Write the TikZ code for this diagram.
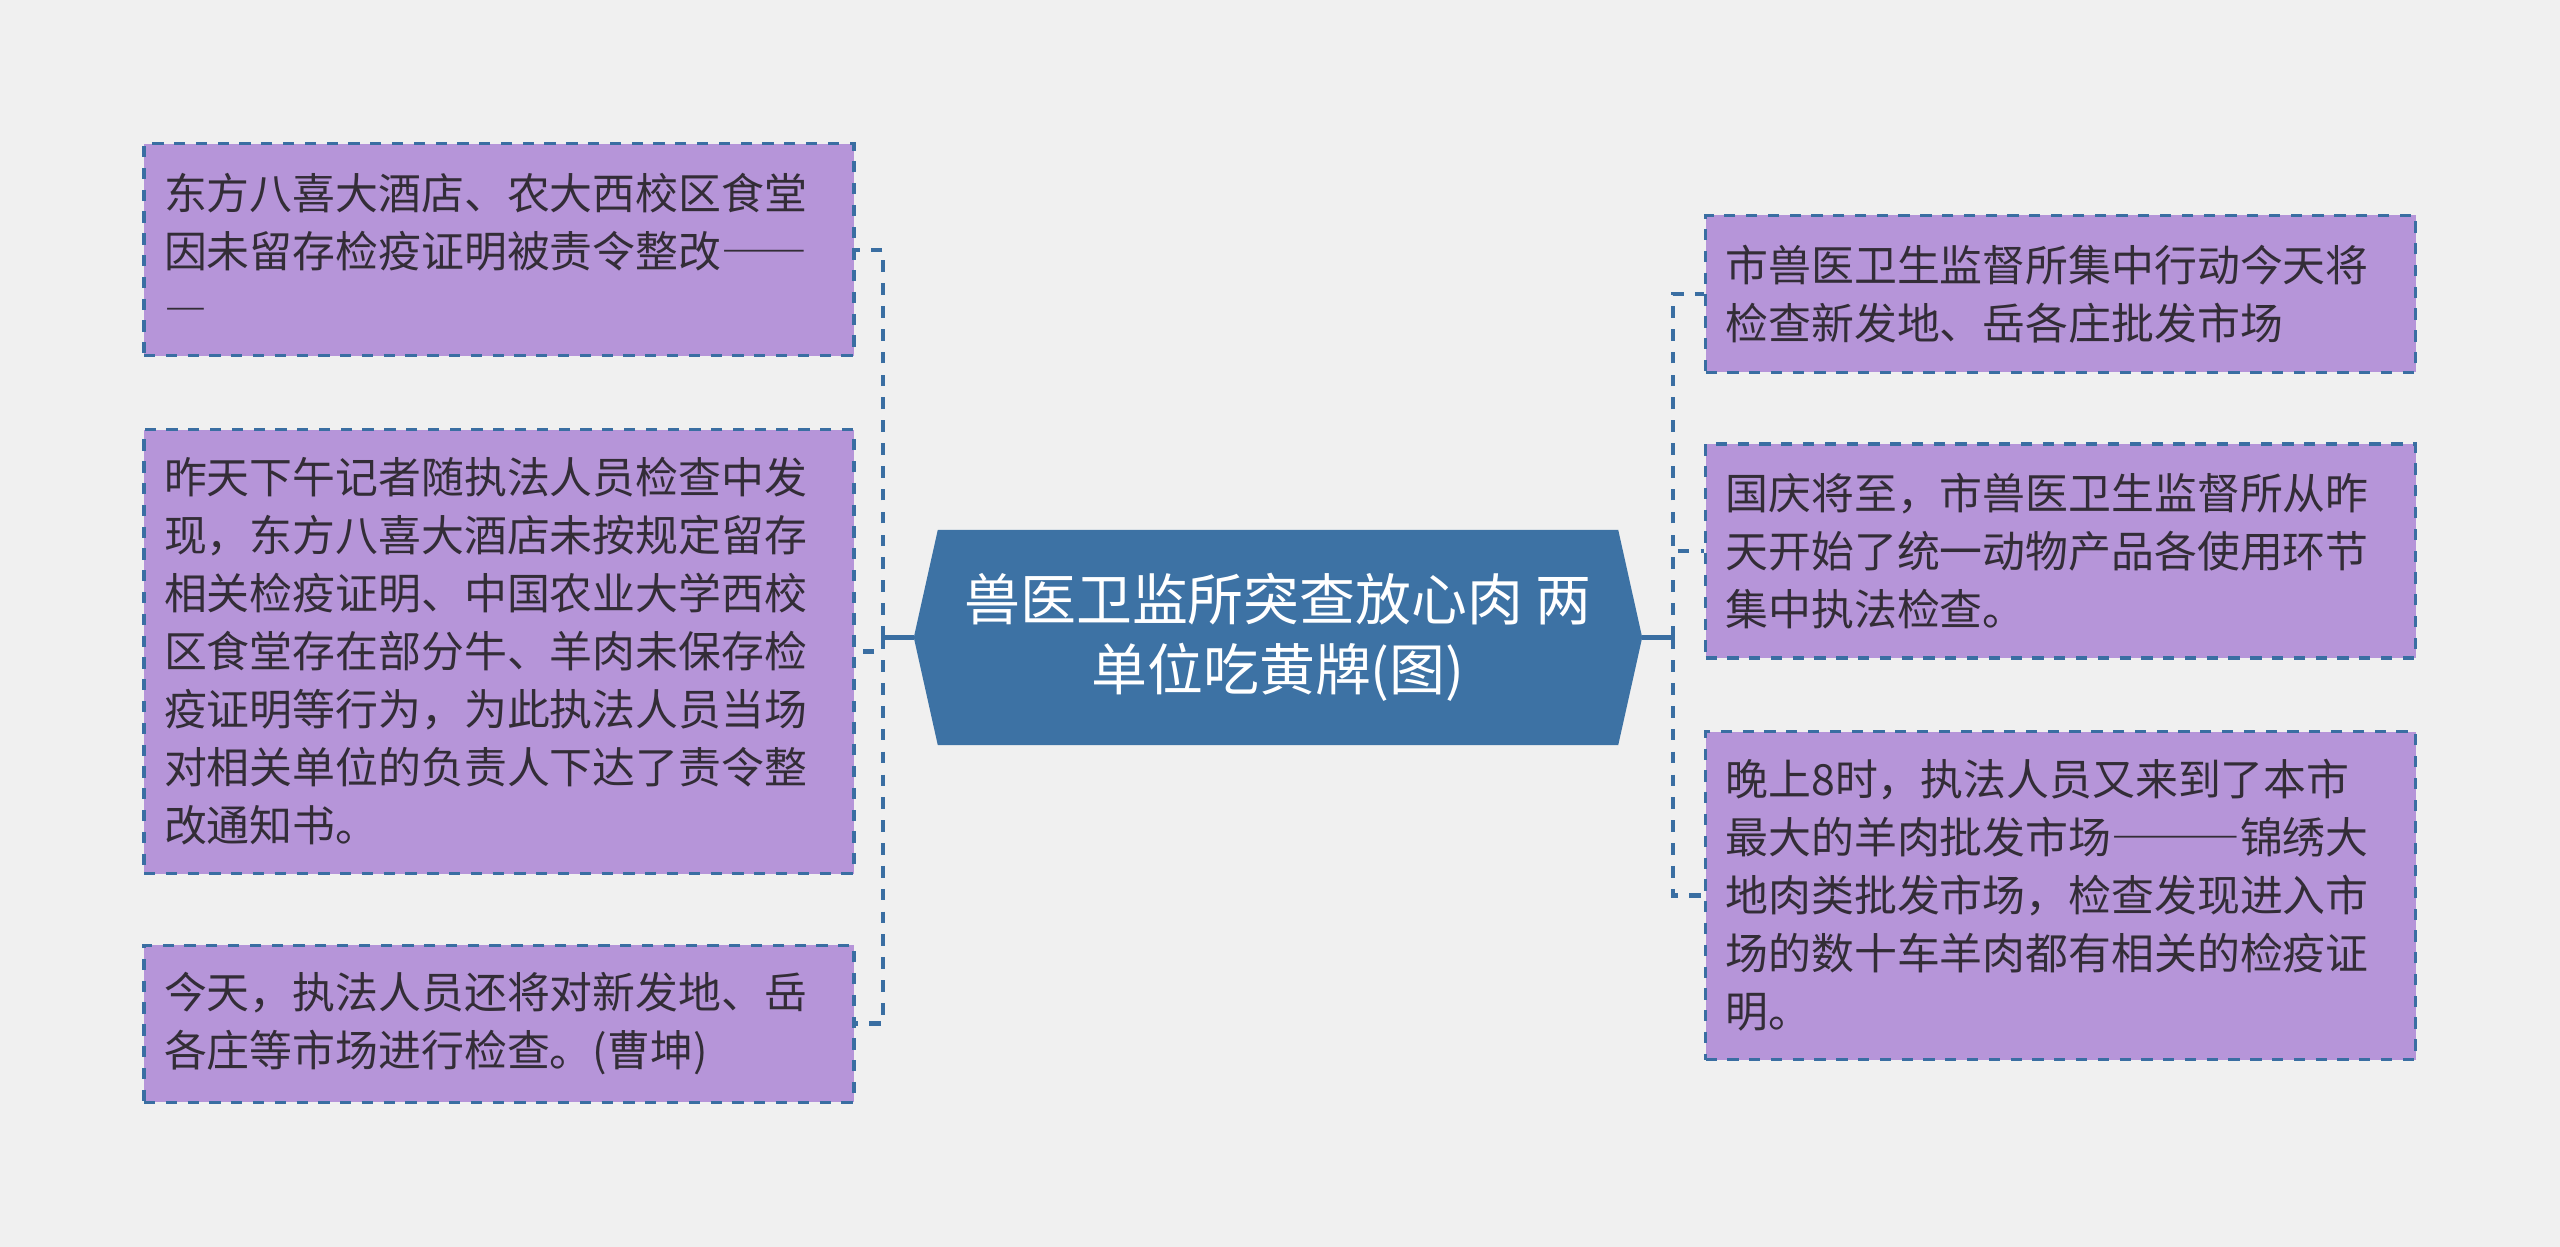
\documentclass[tikz,border=0pt]{standalone}
\usepackage{fontspec}
\setmainfont{Noto Sans CJK SC}
\newfontfamily\fwfont[RawFeature=+fwid]{Noto Sans CJK SC}
\usepackage{tikz}
\usetikzlibrary{positioning, backgrounds}
\definecolor{mybg}{RGB}{240,240,240}
\definecolor{myblue}{RGB}{61,114,164}
\definecolor{myline}{RGB}{58,110,162}
\definecolor{mytext}{RGB}{51,45,55}
\definecolor{hdrlilac}{RGB}{182,149,217}
\tikzset{
  leaf/.style={rectangle, draw=myline, fill=hdrlilac,
    dash pattern=on 3.2pt off 3pt, line width=0.9pt,
    text width=6.7cm, inner xsep=0.2cm, align=left, text=mytext,
    font=\fontsize{12.2pt}{16.5pt}\selectfont},
  root/.style={rectangle, minimum width=7.27cm, minimum height=2.14cm,
    align=center, text=white, font=\fontsize{15.9pt}{20pt}\selectfont},
  link/.style={draw=myline, line width=1.3pt, dash pattern=on 3.3pt off 3.2pt},
  stub/.style={draw=myline, line width=1.3pt}
}

\begin{document}
\begin{tikzpicture}
  \useasboundingbox (0,0) rectangle (25.6,-12.47);

  % central topic
  \node[root] (title) at (12.78,-6.375) {兽医卫监所突查放心肉 两\\单位吃黄牌(图)};

  % left branch
  \node[leaf, minimum height=2.12cm] (lbox1) at (4.99,-2.498) {东方八喜大酒店、农大西校区食堂\\因未留存检疫证明被责令整改{\fwfont ——}\\{\fwfont —}};
  \node[leaf, minimum height=4.44cm] (lbox2) at (4.99,-6.515) {昨天下午记者随执法人员检查中发\\现，东方八喜大酒店未按规定留存\\相关检疫证明、中国农业大学西校\\区食堂存在部分牛、羊肉未保存检\\疫证明等行为，为此执法人员当场\\对相关单位的负责人下达了责令整\\改通知书。};
  \node[leaf, minimum height=1.57cm] (lbox3) at (4.99,-10.237) {今天，执法人员还将对新发地、岳\\各庄等市场进行检查。(曹坤)};

  % right branch
  \node[leaf, minimum height=1.57cm] (rbox1) at (20.605,-2.939) {市兽医卫生监督所集中行动今天将\\检查新发地、岳各庄批发市场};
  \node[leaf, minimum height=2.14cm] (rbox2) at (20.605,-5.51) {国庆将至，市兽医卫生监督所从昨\\天开始了统一动物产品各使用环节\\集中执法检查。};
  \node[leaf, minimum height=3.28cm] (rbox3) at (20.605,-8.956) {晚上8时，执法人员又来到了本市\\最大的羊肉批发市场{\fwfont ———}锦绣大\\地肉类批发市场，检查发现进入市\\场的数十车羊肉都有相关的检疫证\\明。};

  % connectors
  \coordinate (lhub) at (8.83,-6.375);
  \coordinate (rhub) at (16.73,-6.375);
  \draw[stub] (title.west) -- (lhub);
  \foreach \n in {lbox1,lbox2,lbox3}
    \draw[link] (lhub) |- (\n.east);
  \draw[stub] (title.east) -- (rhub);
  \foreach \n in {rbox1,rbox2,rbox3}
    \draw[link] (rhub) |- (\n.west);

  % canvas and hexagon behind the title
  \begin{scope}[on background layer]
    \fill[mybg] (0,0) rectangle (25.6,-12.47);
    \fill[myblue] ([xshift=0.24cm]title.north west) -- ([xshift=-0.24cm]title.north east)
      -- (title.east) -- ([xshift=-0.24cm]title.south east)
      -- ([xshift=0.24cm]title.south west) -- (title.west) -- cycle;
  \end{scope}
\end{tikzpicture}
\end{document}
